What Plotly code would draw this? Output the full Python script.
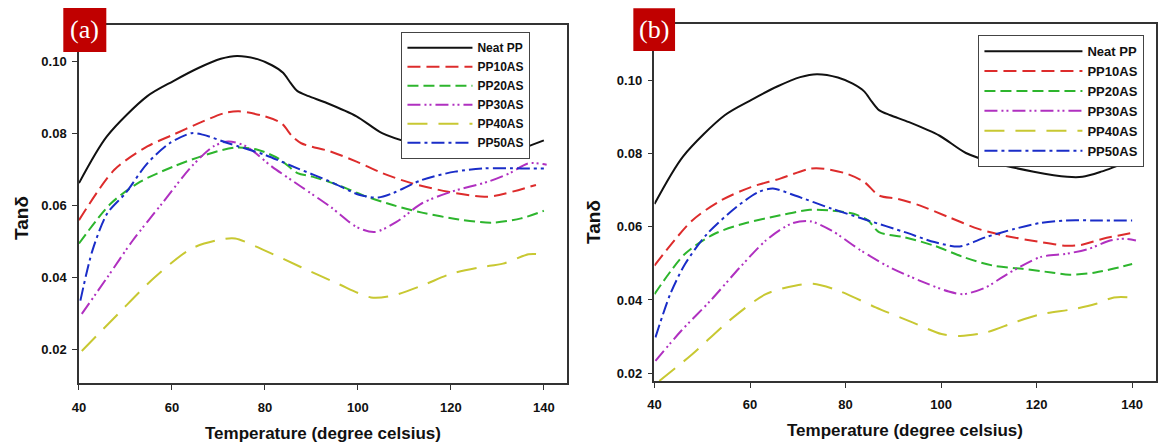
import plotly.graph_objects as go

# ---------------- data ----------------
series_names = ["Neat PP", "PP10AS", "PP20AS", "PP30AS", "PP40AS", "PP50AS"]

neat_T = [40, 46, 54.7, 60.3, 65.8, 70.5, 74, 78.4, 81.5, 83.9, 85.5, 87, 89.4, 93.3, 99.7, 105.2, 111.5, 119.4, 126.4, 129.6, 133.5, 140]
neat_v = [0.0662, 0.0792, 0.0904, 0.0946, 0.0983, 0.1008, 0.1016, 0.1007, 0.0990, 0.0969, 0.0941, 0.0918, 0.0904, 0.0885, 0.0848, 0.0801, 0.0773, 0.0750, 0.0736, 0.0736, 0.0750, 0.0781]

# panel (a)
pp10_a_T = [40, 47.6, 54.7, 60.3, 65.8, 71.3, 74.4, 79.9, 83.5, 85.9, 87.8, 94.1, 99.7, 105.2, 111.5, 119.4, 127.2, 130.4, 138.3]
pp10_a_v = [0.0559, 0.0699, 0.0764, 0.0797, 0.0829, 0.0857, 0.0862, 0.0848, 0.0829, 0.0792, 0.0773, 0.0750, 0.0722, 0.0690, 0.0662, 0.0638, 0.0624, 0.0629, 0.0657]
pp20_a_T = [40, 46.9, 53.2, 60.3, 67.3, 73.6, 78.4, 83.1, 87, 90.2, 95.7, 102, 107.5, 113.8, 121.7, 128.8, 135.1, 140]
pp20_a_v = [0.0494, 0.0606, 0.0666, 0.0708, 0.0741, 0.0761, 0.0755, 0.0729, 0.0690, 0.0680, 0.0657, 0.0624, 0.0601, 0.0580, 0.0561, 0.0552, 0.0564, 0.0585]
pp30_a_T = [40.6, 46.1, 51.6, 57.9, 64.2, 68.9, 72.1, 76, 81.5, 87.8, 94.1, 99.7, 103.6, 108.3, 113.8, 120.1, 128, 132.7, 136.7, 140.6]
pp30_a_v = [0.0298, 0.0400, 0.0503, 0.0606, 0.0708, 0.0764, 0.0778, 0.0764, 0.0708, 0.0652, 0.0596, 0.0540, 0.0526, 0.0554, 0.0606, 0.0638, 0.0666, 0.0690, 0.0717, 0.0713]
pp40_a_T = [40.6, 48.4, 56.3, 64.2, 70.5, 73.6, 79.9, 87.8, 95.7, 102.8, 107.5, 113.8, 120.1, 126.4, 131.2, 136.7, 139.1]
pp40_a_v = [0.0195, 0.0298, 0.0400, 0.0480, 0.0505, 0.0508, 0.0475, 0.0428, 0.0382, 0.0344, 0.0349, 0.0377, 0.0410, 0.0428, 0.0438, 0.0464, 0.0464]
pp50_a_T = [40.3, 42.9, 46.1, 50, 54.7, 59.5, 64.2, 66.6, 72.1, 79.9, 87, 94.1, 100.4, 104.4, 107.5, 113.8, 120.9, 127.2, 135.1, 140]
pp50_a_v = [0.0335, 0.0475, 0.0578, 0.0634, 0.0717, 0.0773, 0.0801, 0.0797, 0.0773, 0.0741, 0.0703, 0.0666, 0.0629, 0.0622, 0.0634, 0.0671, 0.0694, 0.0703, 0.0703, 0.0703]

# panel (b)
pp10_b_T = [40, 47.9, 54, 60.2, 66.3, 72.5, 75.5, 80.1, 83.9, 87, 90.9, 95.5, 101.6, 107.8, 113.1, 120.8, 126.2, 129.3, 133.9, 139.6]
pp10_b_v = [0.0494, 0.0617, 0.0672, 0.0708, 0.0731, 0.0758, 0.0758, 0.0745, 0.0722, 0.0685, 0.0676, 0.0658, 0.0626, 0.0594, 0.0576, 0.0558, 0.0548, 0.0550, 0.0567, 0.0582]
pp20_b_T = [40, 46.4, 52.5, 58.6, 66.3, 72.5, 77.1, 81.7, 84.7, 87, 92.4, 98.6, 104.7, 110.8, 117, 123.1, 126.9, 132.3, 140]
pp20_b_v = [0.0416, 0.0526, 0.0580, 0.0608, 0.0631, 0.0646, 0.0644, 0.0635, 0.0617, 0.0585, 0.0571, 0.0548, 0.0517, 0.0494, 0.0485, 0.0475, 0.0469, 0.0475, 0.0498]
pp30_b_T = [40.2, 45.6, 51.7, 57.9, 63.3, 68.6, 72.5, 77.1, 83.2, 89.3, 95.5, 101.6, 104.7, 109.3, 113.9, 120.8, 126.2, 130.8, 135.4, 138.5, 140.8]
pp30_b_v = [0.0234, 0.0316, 0.0398, 0.0489, 0.0562, 0.0608, 0.0615, 0.0589, 0.0535, 0.0489, 0.0453, 0.0423, 0.0416, 0.0434, 0.0471, 0.0517, 0.0526, 0.0539, 0.0562, 0.0567, 0.0562]
pp40_b_T = [41, 47.9, 55.6, 63.3, 69.4, 73.2, 78.6, 86.3, 94, 100.1, 104, 109.3, 115.4, 120.8, 127.7, 132.3, 136.2, 140]
pp40_b_v = [0.0179, 0.0252, 0.0343, 0.0416, 0.0439, 0.0444, 0.0425, 0.0380, 0.0339, 0.0307, 0.0302, 0.0311, 0.0339, 0.0361, 0.0375, 0.0389, 0.0407, 0.0407]
pp50_b_T = [40.2, 43.3, 46.4, 51, 57.1, 61.7, 64.8, 69.4, 77.1, 84.7, 92.4, 98.6, 103.9, 109.3, 115.4, 120.8, 126.2, 132.3, 140]
pp50_b_v = [0.0298, 0.0416, 0.0498, 0.0580, 0.0653, 0.0694, 0.0704, 0.0685, 0.0649, 0.0617, 0.0585, 0.0558, 0.0546, 0.0571, 0.0594, 0.0610, 0.0617, 0.0617, 0.0617]

x_ticks = [40, 60, 80, 100, 120, 140]
y_ticks = [0.02, 0.04, 0.06, 0.08, 0.10]
y_ticktext = ["0.02", "0.04", "0.06", "0.08", "0.10"]
panel_labels = ["(a)", "(b)"]
x_title = "Temperature (degree celsius)"
y_title = "Tanδ"

# ---------------- styles ----------------
colors = ["#111111", "#DD2C2C", "#2DB52D", "#B030C0", "#C8C832", "#1A2DC8"]
dashes = ["solid", "13px,6px", "11px,5px", "13px,4px,2px,3px,2px,4px", "20px,11px", "13px,4px,3px,4px"]

panel_a = [(neat_T, neat_v), (pp10_a_T, pp10_a_v), (pp20_a_T, pp20_a_v),
           (pp30_a_T, pp30_a_v), (pp40_a_T, pp40_a_v), (pp50_a_T, pp50_a_v)]
panel_b = [(neat_T, neat_v), (pp10_b_T, pp10_b_v), (pp20_b_T, pp20_b_v),
           (pp30_b_T, pp30_b_v), (pp40_b_T, pp40_b_v), (pp50_b_T, pp50_b_v)]

W, H = 1158, 444
fig = go.Figure()

for (xs, ys), name, c, d in zip(panel_a, series_names, colors, dashes):
    fig.add_trace(go.Scatter(x=xs, y=ys, name=name, mode="lines",
                             line=dict(color=c, width=2, dash=d, shape="spline", smoothing=0.8),
                             xaxis="x", yaxis="y", legend="legend"))
for (xs, ys), name, c, d in zip(panel_b, series_names, colors, dashes):
    fig.add_trace(go.Scatter(x=xs, y=ys, name=name, mode="lines",
                             line=dict(color=c, width=2, dash=d, shape="spline", smoothing=0.8),
                             xaxis="x2", yaxis="y2", legend="legend2"))

tickfont = dict(family="Liberation Sans, Arial, sans-serif", size=13, color="#111111", weight="bold")
ax_common = dict(showline=True, mirror=True, linecolor="#333333", linewidth=1.5,
                 ticks="outside", ticklen=5, tickwidth=1.2, tickcolor="#333333",
                 showgrid=False, zeroline=False, tickfont=tickfont)

fig.update_layout(
    width=W, height=H,
    margin=dict(l=0, r=0, t=0, b=0),
    paper_bgcolor="white", plot_bgcolor="white",
    xaxis=dict(domain=[72.5 / W, 564 / W], range=[40, 145], tickvals=x_ticks,
               anchor="y", ticklabelstandoff=6, **ax_common),
    yaxis=dict(domain=[1 - 383.3 / H, 1 - 25 / H], range=[0.0105, 0.1102], tickvals=y_ticks,
               ticktext=y_ticktext, anchor="x", ticklabelstandoff=3, **ax_common),
    xaxis2=dict(domain=[652 / W, 1157 / W], range=[40, 145], tickvals=x_ticks,
                anchor="y2", ticklabelstandoff=6, **ax_common),
    yaxis2=dict(domain=[1 - 381 / H, 1 - 24.3 / H], range=[0.0179, 0.1152], tickvals=y_ticks,
                ticktext=y_ticktext, anchor="x2", ticklabelstandoff=3, **ax_common),
    legend=dict(x=397 / W, y=1 - 32 / H, xanchor="left", yanchor="top",
                bgcolor="white", bordercolor="#444444", borderwidth=1.2,
                itemwidth=65, tracegroupgap=0,
                font=dict(family="Liberation Sans, Arial, sans-serif", size=12, color="#111111", weight="bold")),
    legend2=dict(x=978 / W, y=1 - 35 / H, xanchor="left", yanchor="top",
                 bgcolor="white", bordercolor="#444444", borderwidth=1.2,
                 itemwidth=98, tracegroupgap=0,
                 font=dict(family="Liberation Sans, Arial, sans-serif", size=13, color="#111111", weight="bold")),
    showlegend=True,
)

# panel label boxes
for (x0, x1, y0, y1), lab in zip([(56.7, 100, 8, 52), (630.7, 672.7, 8.3, 51)], panel_labels):
    fig.add_shape(type="rect", xref="paper", yref="paper",
                  x0=x0 / W, x1=x1 / W, y0=1 - y1 / H, y1=1 - y0 / H,
                  fillcolor="#C00000", line=dict(width=0), layer="above")
    fig.add_annotation(text=lab, xref="paper", yref="paper",
                       x=(x0 + x1) / 2 / W, y=1 - (y0 + y1) / 2 / H,
                       showarrow=False, xanchor="center", yanchor="middle",
                       font=dict(family="Liberation Serif, Times New Roman, serif", size=26, color="white"))

title_font_x = dict(family="Liberation Sans, Arial, sans-serif", size=17, color="#111111", weight="bold")
title_font_y = dict(family="Liberation Sans, Arial, sans-serif", size=19, color="#111111", weight="bold")
for xc, yc in [(318, 433), (904, 430)]:
    fig.add_annotation(text=x_title, xref="paper", yref="paper", x=xc / W, y=1 - yc / H,
                       showarrow=False, xanchor="center", yanchor="middle", font=title_font_x)
for xc, yc in [(14, 218), (590, 222)]:
    fig.add_annotation(text=y_title, xref="paper", yref="paper", x=xc / W, y=1 - yc / H,
                       showarrow=False, xanchor="center", yanchor="middle", textangle=-90,
                       font=title_font_y)

fig.write_html("out.html",
               config={"displayModeBar": False},
               post_script="document.body.style.margin='0';document.body.style.padding='0';"
                           "document.documentElement.style.overflow='hidden';")
